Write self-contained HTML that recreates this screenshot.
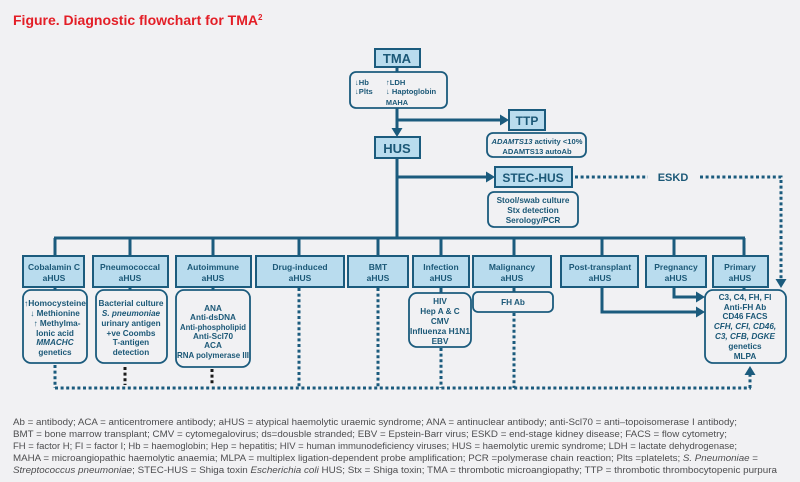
<!DOCTYPE html>
<html><head><meta charset="utf-8"><style>
html,body{margin:0;padding:0;background:#f1f1f3;}
svg{display:block;}
text{font-family:"Liberation Sans",Arial,sans-serif;}
</style></head><body>
<svg width="800" height="482" viewBox="0 0 800 482" xmlns="http://www.w3.org/2000/svg">
<rect width="800" height="482" fill="#f1f1f3"/>
<text x="13" y="25" font-size="14" font-weight="bold" fill="#e31e26">Figure. Diagnostic flowchart for TMA<tspan font-size="8" dy="-5">2</tspan></text>

<g stroke="#1b5b7d" fill="none">
<g stroke-width="3">
<line x1="397" y1="67" x2="397" y2="72"/>
<line x1="397" y1="108" x2="397" y2="130"/>
<line x1="397" y1="120" x2="501" y2="120"/>
<line x1="397" y1="158" x2="397" y2="239"/>
<line x1="397" y1="177" x2="487" y2="177"/>
<line x1="54" y1="238" x2="745" y2="238"/>
<line x1="55" y1="238" x2="55" y2="256"/>
<line x1="130" y1="238" x2="130" y2="256"/>
<line x1="213" y1="238" x2="213" y2="256"/>
<line x1="299" y1="238" x2="299" y2="256"/>
<line x1="378" y1="238" x2="378" y2="256"/>
<line x1="441" y1="238" x2="441" y2="256"/>
<line x1="514" y1="238" x2="514" y2="256"/>
<line x1="602" y1="238" x2="602" y2="256"/>
<line x1="674" y1="238" x2="674" y2="256"/>
<line x1="744" y1="238" x2="744" y2="256"/>
<line x1="55" y1="287" x2="55" y2="291"/>
<line x1="130" y1="287" x2="130" y2="291"/>
<line x1="213" y1="287" x2="213" y2="291"/>
<line x1="441" y1="287" x2="441" y2="294"/>
<line x1="514" y1="287" x2="514" y2="293"/>
<line x1="744" y1="287" x2="744" y2="291"/>
<polyline points="674,287 674,297 697,297"/>
<polyline points="602,287 602,312 697,312"/>
</g>
<g stroke-width="3" stroke-dasharray="3 2.6">
<line x1="575" y1="177" x2="648" y2="177"/>
<polyline points="700,177 781,177 781,280"/>
<line x1="55" y1="365" x2="55" y2="388"/>
<line x1="55" y1="388" x2="751" y2="388"/>
<line x1="750" y1="388" x2="750" y2="374"/>
<line x1="299" y1="288" x2="299" y2="388"/>
<line x1="378" y1="288" x2="378" y2="388"/>
<line x1="441" y1="348" x2="441" y2="388"/>
<line x1="514" y1="313" x2="514" y2="388"/>
</g>
<g stroke-width="3" stroke-dasharray="3 2.6" stroke="#1a1a1a">
<line x1="125" y1="367" x2="125" y2="385"/>
<line x1="212" y1="369" x2="212" y2="385"/>
</g>
</g>

<g fill="#1b5b7d">
<polygon points="397,137 391.5,128 402.5,128"/>
<polygon points="509,120 500,114.5 500,125.5"/>
<polygon points="495,177 486,171.5 486,182.5"/>
<polygon points="781,288 775.5,279 786.5,279"/>
<polygon points="750,366 744.5,375 755.5,375"/>
<polygon points="705,297 696,291.5 696,302.5"/>
<polygon points="705,312 696,306.5 696,317.5"/>
</g>

<g fill="#b9dcee" stroke="#1b5b7d" stroke-width="2">
<rect x="375" y="49" width="45" height="18"/>
<rect x="375" y="137" width="45" height="21"/>
<rect x="509" y="110" width="36" height="20"/>
<rect x="495" y="167" width="77" height="20"/>
<rect x="23" y="256" width="61" height="31"/>
<rect x="93" y="256" width="75" height="31"/>
<rect x="176" y="256" width="75" height="31"/>
<rect x="256" y="256" width="88" height="31"/>
<rect x="348" y="256" width="60" height="31"/>
<rect x="413" y="256" width="56" height="31"/>
<rect x="473" y="256" width="78" height="31"/>
<rect x="561" y="256" width="77" height="31"/>
<rect x="646" y="256" width="60" height="31"/>
<rect x="713" y="256" width="55" height="31"/>
</g>

<g fill="#f1f1f3" stroke="#1b5b7d" stroke-width="1.8">
<rect x="350" y="72" width="97" height="36" rx="6"/>
<rect x="487" y="133" width="99" height="24" rx="6"/>
<rect x="488" y="192" width="90" height="35" rx="6"/>
<rect x="23" y="290" width="64" height="73" rx="8"/>
<rect x="96" y="290" width="71" height="73" rx="8"/>
<rect x="176" y="290" width="74" height="77" rx="8"/>
<rect x="409" y="293" width="62" height="54" rx="8"/>
<rect x="473" y="292" width="80" height="20" rx="5"/>
<rect x="705" y="290" width="81" height="73" rx="8"/>
</g>

<g fill="#1b5877" font-weight="bold" text-anchor="middle">
<text x="397" y="63" font-size="13">TMA</text>
<text x="397" y="153" font-size="13">HUS</text>
<text x="527" y="125" font-size="12">TTP</text>
<text x="533" y="182" font-size="12">STEC-HUS</text>
<text x="673" y="181" font-size="11">ESKD</text>

<g font-size="7.6" text-anchor="start">
<text x="355" y="85">↓Hb</text>
<text x="386" y="85">↑LDH</text>
<text x="355" y="94">↓Plts</text>
<text x="386" y="94">↓ Haptoglobin</text>
</g>
<text x="397" y="105" font-size="7.4">MAHA</text>

<g font-size="7.6">
<text x="537" y="144"><tspan font-style="italic">ADAMTS13</tspan> activity &lt;10%</text>
<text x="537" y="154">ADAMTS13 autoAb</text>
</g>
<g font-size="8.2">
<text x="533" y="203">Stool/swab culture</text>
<text x="533" y="213">Stx detection</text>
<text x="533" y="223">Serology/PCR</text>
</g>

<g font-size="8.5">
<text x="54" y="270">Cobalamin C</text><text x="54" y="281">aHUS</text>
<text x="130" y="270">Pneumococcal</text><text x="130" y="281">aHUS</text>
<text x="213" y="270">Autoimmune</text><text x="213" y="281">aHUS</text>
<text x="300" y="270">Drug-induced</text><text x="300" y="281">aHUS</text>
<text x="378" y="270">BMT</text><text x="378" y="281">aHUS</text>
<text x="441" y="270">Infection</text><text x="441" y="281">aHUS</text>
<text x="512" y="270">Malignancy</text><text x="512" y="281">aHUS</text>
<text x="600" y="270">Post-transplant</text><text x="600" y="281">aHUS</text>
<text x="676" y="270">Pregnancy</text><text x="676" y="281">aHUS</text>
<text x="740" y="270">Primary</text><text x="740" y="281">aHUS</text>
</g>

<g font-size="8.2">
<text x="55" y="306" textLength="62" lengthAdjust="spacingAndGlyphs">↑Homocysteine</text>
<text x="55" y="316">↓ Methionine</text>
<text x="57" y="326">↑ Methylma-</text>
<text x="55" y="336">lonic acid</text>
<text x="55" y="345" font-style="italic">MMACHC</text>
<text x="55" y="355">genetics</text>

<text x="131" y="306" textLength="65" lengthAdjust="spacingAndGlyphs">Bacterial culture</text>
<text x="131" y="316" font-style="italic">S. pneumoniae</text>
<text x="131" y="326">urinary antigen</text>
<text x="131" y="336">+ve Coombs</text>
<text x="131" y="345">T-antigen</text>
<text x="131" y="355">detection</text>

<text x="213" y="311">ANA</text>
<text x="213" y="320">Anti-dsDNA</text>
<text x="213" y="330" textLength="66" lengthAdjust="spacingAndGlyphs">Anti-phospholipid</text>
<text x="213" y="339">Anti-Scl70</text>
<text x="213" y="348">ACA</text>
<text x="213" y="358" textLength="72" lengthAdjust="spacingAndGlyphs">RNA polymerase III</text>

<text x="440" y="304">HIV</text>
<text x="440" y="314">Hep A &amp; C</text>
<text x="440" y="324">CMV</text>
<text x="440" y="334" textLength="60" lengthAdjust="spacingAndGlyphs">Influenza H1N1</text>
<text x="440" y="344">EBV</text>

<text x="513" y="305">FH Ab</text>

<text x="745" y="300">C3, C4, FH, FI</text>
<text x="745" y="310">Anti-FH Ab</text>
<text x="745" y="319">CD46 FACS</text>
<text x="745" y="329" font-style="italic">CFH, CFI, CD46,</text>
<text x="745" y="339" font-style="italic">C3, CFB, DGKE</text>
<text x="745" y="349">genetics</text>
<text x="745" y="359">MLPA</text>
</g>
</g>

<g font-size="9" fill="#4d4d4f">
<text x="13" y="425" textLength="724" lengthAdjust="spacingAndGlyphs">Ab = antibody; ACA = anticentromere antibody; aHUS = atypical haemolytic uraemic syndrome; ANA = antinuclear antibody; anti-Scl70 = anti–topoisomerase I antibody;</text>
<text x="13" y="437" textLength="714" lengthAdjust="spacingAndGlyphs">BMT = bone marrow transplant; CMV = cytomegalovirus; ds=dousble stranded; EBV = Epstein-Barr virus; ESKD = end-stage kidney disease; FACS = flow cytometry;</text>
<text x="13" y="449" textLength="724" lengthAdjust="spacingAndGlyphs">FH = factor H; FI = factor I; Hb = haemoglobin; Hep = hepatitis; HIV = human immunodeficiency viruses; HUS = haemolytic uremic syndrome; LDH = lactate dehydrogenase;</text>
<text x="13" y="461" textLength="745" lengthAdjust="spacingAndGlyphs">MAHA = microangiopathic haemolytic anaemia; MLPA = multiplex ligation-dependent probe amplification; PCR =polymerase chain reaction; Plts =platelets; <tspan font-style="italic">S. Pneumoniae</tspan> =</text>
<text x="13" y="473" textLength="764" lengthAdjust="spacingAndGlyphs"><tspan font-style="italic">Streptococcus pneumoniae</tspan>; STEC-HUS = Shiga toxin <tspan font-style="italic">Escherichia coli</tspan> HUS; Stx = Shiga toxin; TMA = thrombotic microangiopathy; TTP = thrombotic thrombocytopenic purpura</text>
</g>
</svg>
</body></html>
